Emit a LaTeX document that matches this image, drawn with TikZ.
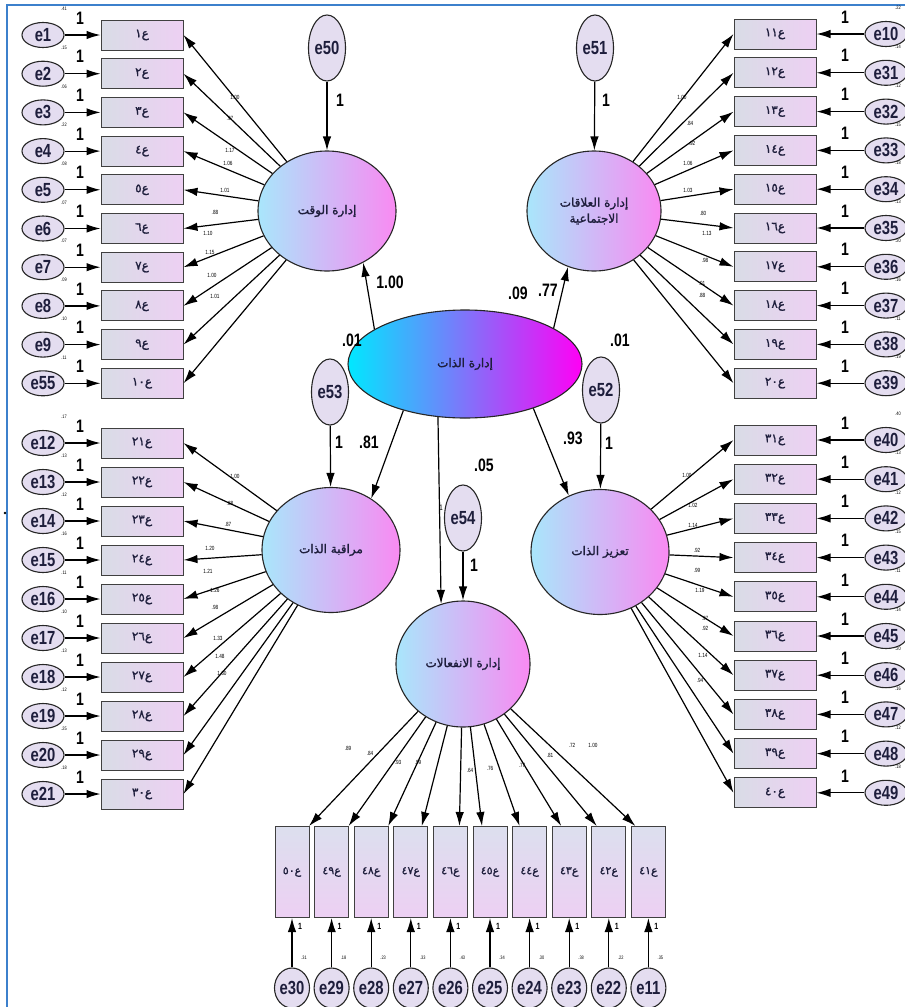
\documentclass[tikz,border=0pt]{standalone}
\usepackage{fontspec}
\usetikzlibrary{shapes.geometric,arrows.meta,calc}
\TeXXeTstate=1
\newfontfamily\arf[Script=Arabic]{DejaVu Sans}
\newfontfamily\arfb[Script=Arabic,FakeBold=1.5]{DejaVu Sans}
\newfontfamily\digf[FakeBold=0.8]{DejaVu Sans}
\newfontfamily\narf[FakeStretch=0.78]{Liberation Sans}
\newcommand\bl[1]{{\digf #1}{\arfb ع}}
\definecolor{boxL}{HTML}{D9DCE6}
\definecolor{boxR}{HTML}{EDD0F3}
\definecolor{vboxT}{HTML}{DCDFEE}
\definecolor{errF}{HTML}{E4DDF0}
\definecolor{latL}{HTML}{A9E6FB}
\definecolor{latR}{HTML}{F98AF2}
\definecolor{cenL}{HTML}{00E8FF}
\definecolor{cenM}{HTML}{8A5CFF}
\definecolor{cenR}{HTML}{FF00F5}
\definecolor{frameB}{HTML}{3C80CC}
\definecolor{ink}{HTML}{1E1E3C}
\begin{document}
\begin{tikzpicture}[x=1pt,y=-1pt,
  ebox/.style={rectangle, draw=black!75, line width=1pt, minimum width=82pt, minimum height=30pt, inner sep=0pt, left color=boxL, right color=boxR, text=ink, font=\digf\fontsize{12}{12}\selectfont},
  vbox/.style={rectangle, draw=black!75, line width=1pt, minimum width=34pt, minimum height=91pt, inner sep=0pt, top color=vboxT, bottom color=boxR, text=ink, font=\digf\fontsize{11}{11}\selectfont},
  err/.style={ellipse, draw=black!85, line width=1.1pt, fill=errF, minimum width=42pt, minimum height=25pt, inner sep=0pt, text=ink, font=\narf\bfseries\fontsize{19}{19}\selectfont},
  verr/.style={err, minimum width=37pt, minimum height=66pt},
  berr/.style={err, minimum width=35pt, minimum height=40pt},
  lat/.style={ellipse, draw=black!85, line width=1.1pt, minimum width=138pt, minimum height=120pt, left color=latL, right color=latR, inner sep=0pt, text=ink, font=\arfb\fontsize{12}{16}\selectfont, align=center},
  arr/.style={-{Latex[length=14pt,width=8.5pt]}, line width=1.2pt},
  one/.style={font=\narf\bfseries\fontsize{18}{18}\selectfont, inner sep=0pt},
  big/.style={font=\narf\bfseries\fontsize{18}{18}\selectfont, inner sep=0pt},
  tinyl/.style={font=\narf\fontsize{5}{5}\selectfont, inner sep=0pt},
  ld/.style={font=\narf\fontsize{6}{6}\selectfont, inner sep=0pt}
]
\useasboundingbox (0,0) rectangle (905,1007);
\fill[white] (0,0) rectangle (905,1007);
\draw[frameB, line width=2.5pt] (7,1007) -- (7,5) -- (905,5);
\fill (5,513) circle (1.3pt);

% latent factors
\node[lat] (wk) at (327,211) {\beginR إدارة الوقت\endR};
\node[lat, minimum width=134pt] (rel) at (594,211) {\beginR إدارة العلاقات\endR\\\beginR الاجتماعية\endR};
\node[lat, minimum height=125pt] (mon) at (331,550) {\beginR مراقبة الذات\endR};
\node[lat, minimum height=125pt] (enh) at (600,552) {\beginR تعزيز الذات\endR};
\node[lat, minimum width=134pt, minimum height=126pt] (emo) at (463,664) {\beginR إدارة الانفعالات\endR};
\node[ellipse, draw=black!85, line width=1.1pt, minimum width=234pt, minimum height=108pt, left color=cenL, middle color=cenM, right color=cenR, text=ink, font=\arfb\fontsize{12}{16}\selectfont] (ctr) at (465,364) {\beginR إدارة الذات\endR};

% second-order residuals
\node[verr] (e50) at (327,48) {e50};
\node[verr] (e51) at (595,48) {e51};
\node[verr] (e53) at (330,392) {e53};
\node[verr] (e52) at (601,390) {e52};
\node[verr] (e54) at (463,518) {e54};
\draw[arr] (e50) -- (wk);
\draw[arr] (e51) -- (rel);
\draw[arr] (e53) -- (mon);
\draw[arr] (e52) -- (enh);
\draw[arr] (e54) -- (emo);
\node[one] at (340,100) {1};
\node[one] at (606,100) {1};
\node[one] at (339,442) {1};
\node[one] at (609,443) {1};
\node[one] at (474,565) {1};
\node[font=\narf\fontsize{8}{8}\selectfont, inner sep=0pt] at (441,508) {1};

% structural paths
\draw[arr] (ctr.159) -- (wk.-55);
\draw[arr] (ctr.22) -- (rel.245);
\draw[arr] (ctr.217) -- (mon.52);
\draw[arr] (ctr.243) -- (emo.110);
\draw[arr] (ctr.327) -- (enh.119);
\node[big] at (390,282) {1.00};
\node[big] at (548,290) {.77};
\node[big] at (518,293) {.09};
\node[big] at (352,340) {.01};
\node[big] at (620,340) {.01};
\node[big] at (369,442) {.81};
\node[big] at (573,438) {.93};
\node[big] at (484,465) {.05};

% left top group
\foreach \k/\e/\d/\v in {0/e1/١/.41, 1/e2/٢/.15, 2/e3/٣/.06, 3/e4/٤/.22, 4/e5/٥/.08, 5/e6/٦/.07, 6/e7/٧/.07, 7/e8/٨/.09, 8/e9/٩/.10, 9/e55/١٠/.11}{
  \pgfmathsetmacro\y{35+38.7*\k}
  \node[ebox] (lt\k) at (142,\y) {\bl{\d}};
  \node[err] (elt\k) at (43,\y) {\e};
  \draw[arr] (elt\k) -- (lt\k);
  \node[one] at (80,\y-17) {1};
  \node[tinyl] at (64,\y-26) {\v};
  \draw[arr] (wk) -- (lt\k.east);
}
\foreach \x/\y/\t in {235/97/1.00, 230/118/.97, 230/150/1.17, 228/163/1.06, 225/190/1.01, 215/212/.88, 208/233/1.10, 210/252/1.15, 212/275/1.00, 215/296/1.01}
  \node[ld] at (\x,\y) {\t};

% left bottom group
\foreach \k/\e/\d/\v in {0/e12/٢١/.17, 1/e13/٢٢/.13, 2/e14/٢٣/.12, 3/e15/٢٤/.16, 4/e16/٢٥/.11, 5/e17/٢٦/.10, 6/e18/٢٧/.13, 7/e19/٢٨/.12, 8/e20/٢٩/.25, 9/e21/٣٠/.18}{
  \pgfmathsetmacro\y{443+39*\k}
  \node[ebox] (lb\k) at (142,\y) {\bl{\d}};
  \node[err] (elb\k) at (43,\y) {\e};
  \draw[arr] (elb\k) -- (lb\k);
  \node[one] at (80,\y-17) {1};
  \node[tinyl] at (64,\y-26) {\v};
  \draw[arr] (mon) -- (lb\k.east);
}
\foreach \x/\y/\t in {235/476/1.00, 230/503/.88, 228/524/.87, 210/548/1.20, 208/571/1.21, 215/590/1.26, 215/607/.98, 218/638/1.33, 220/656/1.48, 222/673/1.60}
  \node[ld] at (\x,\y) {\t};

% right top group
\foreach \k/\e/\d/\v in {0/e10/١١/.22, 1/e31/١٢/.14, 2/e32/١٣/.12, 3/e33/١٤/.15, 4/e34/١٥/.18, 5/e35/١٦/.13, 6/e36/١٧/.20, 7/e37/١٨/.16, 8/e38/١٩/.11, 9/e39/٢٠/.19}{
  \pgfmathsetmacro\y{34+38.8*\k}
  \node[ebox] (rt\k) at (775,\y) {\bl{\d}};
  \node[err] (ert\k) at (886,\y) {\e};
  \draw[arr] (ert\k) -- (rt\k);
  \node[one] at (845,\y-17) {1};
  \node[tinyl] at (898,\y-26) {\v};
  \draw[arr] (rel) -- (rt\k.west);
}
\foreach \x/\y/\t in {682/97/1.00, 690/123/.84, 692/143/.92, 688/163/1.06, 688/190/1.03, 703/213/.80, 707/233/1.13, 705/260/.98, 702/283/.91, 702/295/.88}
  \node[ld] at (\x,\y) {\t};

% right bottom group
\foreach \k/\e/\d/\v in {0/e40/٣١/.40, 1/e41/٣٢/.13, 2/e42/٣٣/.12, 3/e43/٣٤/.15, 4/e44/٣٥/.11, 5/e45/٣٦/.14, 6/e46/٣٧/.20, 7/e47/٣٨/.16, 8/e48/٣٩/.12, 9/e49/٤٠/.18}{
  \pgfmathsetmacro\y{440+39.2*\k}
  \node[ebox] (rb\k) at (775,\y) {\bl{\d}};
  \node[err] (erb\k) at (886,\y) {\e};
  \draw[arr] (erb\k) -- (rb\k);
  \node[one] at (845,\y-17) {1};
  \node[tinyl] at (898,\y-26) {\v};
  \draw[arr] (enh) -- (rb\k.west);
}
\foreach \x/\y/\t in {687/475/1.00, 693/505/1.02, 693/525/1.14, 697/550/.92, 697/570/.99, 700/590/1.19, 705/618/.97, 705/628/.92, 703/655/1.14, 700/680/.94}
  \node[ld] at (\x,\y) {\t};

% bottom group
\foreach \k/\e/\d/\v/\s in {0/e30/٥٠/.31/17, 1/e29/٤٩/.18/17, 2/e28/٤٨/.23/17, 3/e27/٤٧/.33/11, 4/e26/٤٦/.43/9, 5/e25/٤٥/.34/-8, 6/e24/٤٤/.30/-10, 7/e23/٤٣/.38/-8, 8/e22/٤٢/.22/-12, 9/e11/٤١/.35/-13}{
  \pgfmathsetmacro\x{292+39.6*\k}
  \node[vbox] (bt\k) at (\x,872) {\bl{\d}};
  \node[berr] (ebt\k) at (\x,988) {\e};
  \draw[arr] (ebt\k) -- (bt\k);
  \node[font=\narf\bfseries\fontsize{9}{9}\selectfont, inner sep=0pt] at (\x+8,926) {1};
  \node[tinyl] at (\x+12,958) {\v};
  \draw[arr] (emo) -- ([xshift=\s pt]bt\k.north);
}
\foreach \x/\y/\t in {348/748/.89, 370/753/.84, 398/762/.93, 418/762/.99, 470/770/.64, 490/768/.76, 522/765/.77, 550/755/.81, 572/745/.72, 593/745/1.00}
  \node[ld] at (\x,\y) {\t};
\end{tikzpicture}
\end{document}
